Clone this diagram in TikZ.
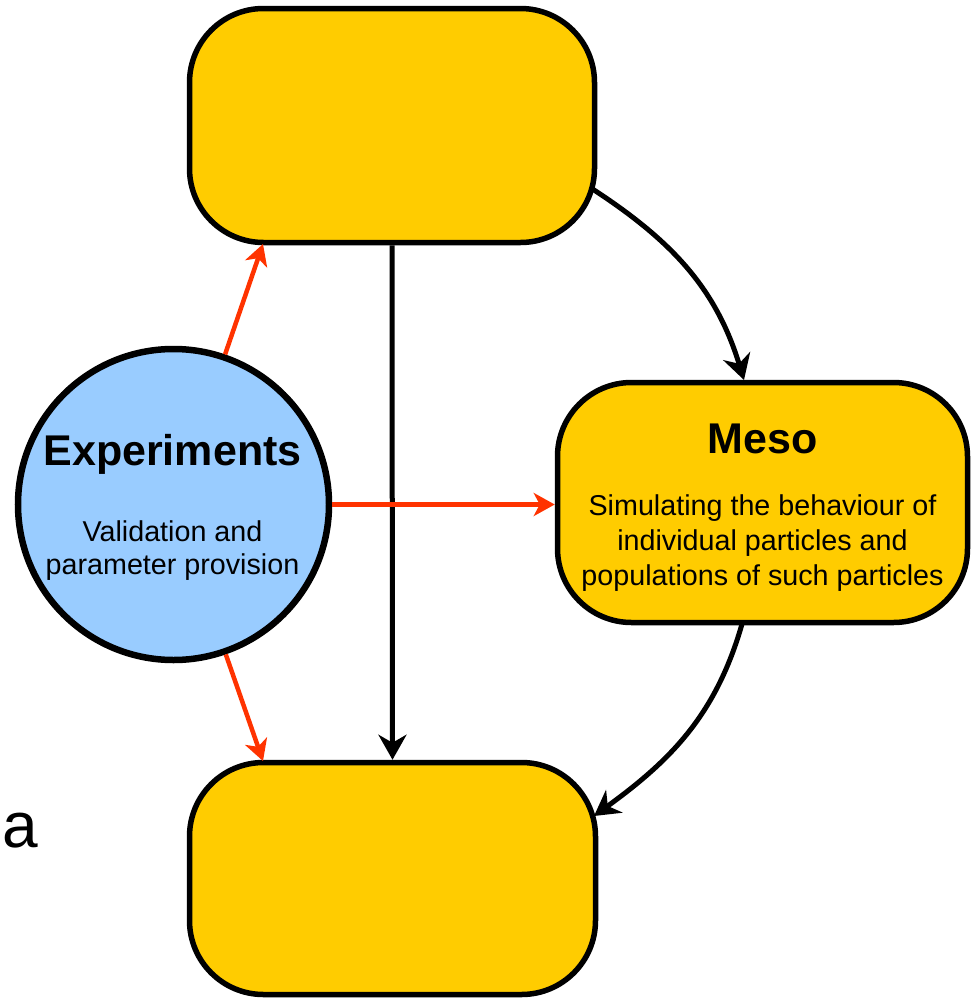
\documentclass[tikz,border=0pt]{standalone}
\usepackage{fontspec}
\setmainfont{Liberation Sans}
\usetikzlibrary{arrows.meta}
\definecolor{boxyellow}{HTML}{FFCC00}
\definecolor{expblue}{HTML}{99CCFF}
\definecolor{arrowred}{HTML}{FF3300}
\begin{document}
\begin{tikzpicture}[x=1pt,y=1pt,
  box/.style={draw=black, line width=5.5pt, fill=boxyellow, rounded corners=74pt, inner sep=0pt},
  expcircle/.style={circle, draw=black, line width=6.5pt, fill=expblue, inner sep=0pt, minimum size=311pt},
  blk/.style={draw=black, line width=5pt, -{Stealth[length=25pt,width=28pt,inset=8pt]}},
  redarrow/.style={draw=arrowred, line width=4.5pt, -{Stealth[length=21pt,width=23pt,inset=6pt]}},
  title/.style={font=\bfseries\fontsize{43}{50}\selectfont, anchor=base, inner sep=0pt},
  body/.style={align=center, inner sep=0pt}
]
\useasboundingbox (0,0) rectangle (973,-999);

% shapes
\node[box, minimum width=405pt, minimum height=234pt] (top) at (392,-125.5) {};
\node[box, minimum width=406pt, minimum height=232pt] (bottom) at (392.5,-878.5) {};
\node[box, minimum width=410pt, minimum height=240pt] (meso) at (762.5,-502.5) {};
\node[expcircle] (exp) at (173.5,-504.5) {};

% texts
\node[title] (exptitle) at (172.5,-465) {Experiments};
\node[body, font=\fontsize{28.7}{32.4}\selectfont] (expbody) at (172.5,-550.5) {Validation and\\parameter provision};
\node[title] (mesotitle) at (762.5,-453) {Meso};
\node[body, font=\fontsize{28.7}{35}\selectfont] (mesobody) at (762.5,-543) {Simulating the behaviour of\\individual particles and\\populations of such particles};
\node[font=\fontsize{64}{70}\selectfont, anchor=base west, inner sep=0pt] (lbl) at (2,-847) {a};

% connector end points
\coordinate (tlc) at (263,-244);
\coordinate (blc) at (263,-761);
\coordinate (c1s) at (591,-188);
\coordinate (c1e) at (744,-380);
\coordinate (c2s) at (742,-624);
\coordinate (c2e) at (594,-816);

% connectors
\draw[blk] (top.south) -- (bottom.north);
\draw[blk] (c1s) to[out=-33,in=107] (c1e);
\draw[blk] (c2s) to[out=254,in=36] (c2e);
\draw[redarrow] (exp) -- (tlc);
\draw[redarrow] (exp) -- (blc);
\draw[redarrow] (exp.east) -- (exp.east -| meso.west);
\end{tikzpicture}
\end{document}
